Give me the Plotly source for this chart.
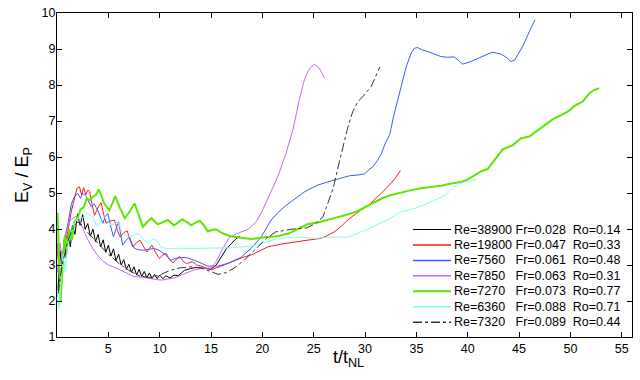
import plotly.graph_objects as go

# ---------------- data ----------------
legend_labels = [
    ("38900", "0.028", "0.14"),
    ("19800", "0.047", "0.33"),
    ("7560", "0.061", "0.48"),
    ("7850", "0.063", "0.31"),
    ("7270", "0.073", "0.77"),
    ("6360", "0.088", "0.71"),
    ("7320", "0.089", "0.44"),
]

t_black = [0.1, 0.3, 0.5, 0.7, 0.9, 1.1, 1.3, 1.5, 1.75, 2.0, 2.25, 2.5, 2.75, 3.0, 3.25, 3.5, 3.75,
           4.0, 4.25, 4.5, 4.75, 5.0, 5.25, 5.5, 5.75, 6.0, 6.25, 6.5, 6.75, 7.0, 7.25, 7.5, 7.75,
           8.0, 8.25, 8.5, 8.75, 9.0, 9.25, 9.5, 9.75, 10.0, 10.3, 10.6, 11.0, 11.4, 11.8, 12.4,
           13.0, 13.5, 14.0, 14.5, 15.0, 15.5, 16.0, 16.5, 17.0, 17.4, 17.8]
v_black = [2.3, 3.4, 2.8, 3.7, 3.2, 3.9, 3.5, 4.1, 3.85, 4.42, 4.1, 4.4, 4.0, 4.15, 3.8, 4.0, 3.65,
           3.85, 3.5, 3.7, 3.35, 3.55, 3.25, 3.45, 3.12, 3.3, 3.0, 3.15, 2.88, 3.02, 2.8, 2.95, 2.72,
           2.88, 2.68, 2.82, 2.65, 2.78, 2.62, 2.74, 2.62, 2.72, 2.62, 2.7, 2.64, 2.72, 2.7, 2.85,
           2.9, 2.93, 2.92, 2.9, 2.88, 3.0, 3.22, 3.45, 3.6, 3.72, 3.8]

t_red = [0.05, 0.3, 0.5, 0.8, 1.1, 1.4, 1.7, 1.94, 2.19, 2.4, 2.6, 2.8, 3.0, 3.17, 3.4, 3.65, 4.0,
         4.3, 4.55, 4.79, 5.2, 5.6, 5.9, 6.15, 6.5, 6.84, 7.1, 7.39, 7.75, 8.1, 8.45, 8.78, 9.0,
         9.24, 9.6, 9.98, 10.3, 10.63, 10.95, 11.28, 11.6, 11.93, 12.3, 12.6, 13.2, 13.6, 14.04,
         15.0, 15.8, 16.96, 18.1, 19.1, 20.5, 21.83, 23.1, 24.4, 25.7, 26.05, 27.0, 27.7, 28.3,
         29.0, 29.6, 30.3, 30.9, 31.6, 32.2, 32.9, 33.45]
v_red = [3.4, 2.5, 3.2, 3.6, 4.0, 4.5, 4.9, 5.13, 5.17, 4.95, 5.15, 4.95, 5.08, 5.05, 4.7, 4.38, 4.6,
         4.73, 4.4, 4.16, 4.22, 4.25, 3.95, 3.78, 3.9, 3.95, 3.7, 3.5, 3.62, 3.69, 3.5, 3.36, 3.45,
         3.55, 3.35, 3.18, 3.28, 3.32, 3.15, 3.06, 3.15, 3.24, 3.1, 3.04, 3.09, 3.0, 2.97,
         2.87, 2.95, 3.09, 3.21, 3.3, 3.5, 3.58, 3.64, 3.69, 3.74, 3.78, 3.92, 4.08, 4.25,
         4.4, 4.53, 4.65, 4.8, 5.0, 5.17, 5.4, 5.62]

t_blue = [0.05, 0.3, 0.5, 0.8, 1.1, 1.4, 1.7, 2.0, 2.3, 2.5, 2.84, 3.1, 3.33, 3.6, 3.98, 4.2, 4.47,
          4.7, 4.96, 5.2, 5.5, 5.75, 6.0, 6.2, 6.4, 6.7, 7.06, 7.3, 7.55, 8.0, 8.5, 9.0, 9.5, 10.0,
          10.5, 11.1, 11.5, 12.1, 12.7, 13.4, 14.0, 14.7, 15.67, 16.6, 17.9, 18.9, 19.9, 20.85,
          21.5, 22.15, 22.8, 23.46, 24.1, 24.75, 25.4, 26.4, 27.0, 27.7, 28.5, 29.3, 29.94, 30.4,
          30.76, 31.2, 31.57, 32.0, 32.4, 32.8, 33.2, 33.6, 34.0, 34.5, 34.8, 35.14, 35.5, 36.1,
          36.8, 37.4, 38.06, 38.7, 39.1, 39.5, 40.3, 41.3, 41.8, 42.4, 43.25, 43.8, 44.2, 44.6,
          44.9, 45.4, 46.0, 46.55]
v_blue = [3.6, 2.4, 3.1, 3.8, 4.2, 4.7, 4.9, 4.99, 4.85, 5.0, 4.9, 4.75, 4.62, 4.7, 4.52, 4.35, 4.16,
          4.35, 4.43, 4.1, 3.78, 4.0, 4.2, 3.85, 3.55, 3.68, 3.78, 3.6, 3.46, 3.42, 3.41, 3.44, 3.46, 3.4,
          3.3, 3.13, 3.18, 3.21, 3.2, 3.13, 3.05, 2.97, 2.97, 3.04, 3.21, 3.46, 3.78, 4.25,
          4.45, 4.62, 4.76, 4.9, 5.03, 5.13, 5.22, 5.31, 5.36, 5.43, 5.48, 5.5, 5.53, 5.65,
          5.73, 5.9, 6.08, 6.4, 6.62, 7.15, 7.6, 8.1, 8.5, 8.89, 9.02, 9.04, 8.98, 8.93,
          8.85, 8.79, 8.77, 8.78, 8.68, 8.58, 8.65, 8.79, 8.84, 8.91, 8.86, 8.76, 8.65, 8.7,
          8.84, 9.1, 9.48, 9.81]

t_purple = [0.05, 0.3, 0.5, 0.75, 1.06, 1.3, 1.55, 1.8, 2.03, 2.3, 2.5, 3.0, 3.5, 4.0, 4.5, 5.0, 5.5,
            6.0, 6.5, 7.0, 7.5, 8.3, 9.0, 9.6, 10.15, 10.8, 11.44, 12.1, 12.75, 13.4, 14.04, 15.0,
            15.5, 16.15, 16.8, 17.6, 18.6, 19.4, 19.9, 20.5, 21.0, 21.5, 22.3, 22.97, 23.6, 24.0,
            24.3, 24.7, 25.07, 25.35, 25.6, 26.05]
v_purple = [2.8, 3.6, 3.2, 3.8, 4.06, 4.25, 4.29, 4.35, 4.34, 4.15, 4.05, 3.7, 3.45, 3.25, 3.1, 3.0, 2.95,
            2.88, 2.8, 2.74, 2.68, 2.66, 2.62, 2.6, 2.58, 2.6, 2.64, 2.72, 2.8, 2.87, 2.9, 2.92,
            3.1, 3.46, 3.77, 3.88, 3.99, 4.2, 4.45, 4.82, 5.15, 5.45, 6.1, 6.75, 7.59, 8.05,
            8.3, 8.5, 8.57, 8.52, 8.44, 8.2]

t_green = [0.05, 0.2, 0.35, 0.55, 0.75, 0.95, 1.2, 1.45, 1.7, 2.0, 2.3, 2.6, 2.9, 3.2, 3.5, 3.8, 4.05,
           4.3, 4.6, 5.1, 5.67, 6.1, 6.6, 7.0, 7.55, 7.95, 8.36, 8.8, 9.2, 9.8, 10.3, 10.8, 11.4, 11.8,
           12.2, 12.6, 13.07, 13.5, 13.9, 14.3, 14.7, 15.1, 15.5, 15.9, 16.3, 16.9, 17.6, 18.9, 20.2,
           21.5, 22.6, 23.45, 24.4, 25.7, 26.7, 27.7, 28.5, 29.3, 30.1, 30.9, 31.7, 32.5, 33.5, 34.5,
           35.4, 36.4, 37.4, 38.3, 39.4, 40.0, 40.65, 41.3, 41.96, 42.7, 43.4, 44.4, 45.2, 46.0, 46.5,
           47.1, 47.7, 48.3, 49.0, 49.75, 50.4, 51.2, 51.85, 52.3, 52.8]
v_green = [4.45, 3.4, 2.0, 3.0, 3.8, 3.4, 4.0, 3.7, 4.2, 4.3, 4.55, 4.6, 4.85, 4.8, 4.9, 4.95, 5.1,
           4.95, 4.7, 4.52, 4.91, 4.6, 4.3, 4.45, 4.71, 4.4, 4.06, 4.2, 4.3, 4.13, 4.18, 4.25, 4.1, 4.18,
           4.27, 4.2, 4.1, 4.18, 4.23, 4.1, 3.93, 3.97, 3.99, 3.92, 3.86, 3.8, 3.77, 3.72, 3.77,
           3.8, 3.88, 3.99, 4.13, 4.2, 4.28, 4.34, 4.42, 4.5, 4.62, 4.76, 4.86, 4.94, 5.02, 5.08,
           5.13, 5.17, 5.2, 5.26, 5.31, 5.38, 5.5, 5.6, 5.67, 5.95, 6.21, 6.33, 6.52, 6.57, 6.68,
           6.8, 6.92, 7.05, 7.15, 7.26, 7.42, 7.54, 7.77, 7.86, 7.91]

t_cyan = [0.05, 0.2, 0.4, 0.6, 0.8, 1.0, 1.3, 1.6, 1.9, 2.19, 2.5, 2.8, 3.0, 3.2, 3.5, 3.82, 4.0, 4.3,
          4.6, 4.95, 5.28, 5.6, 5.9, 6.3, 6.9, 7.4, 7.9, 8.4, 8.85, 9.3, 9.6, 10.15, 10.6, 11.44,
          12.1, 13.07, 14.04, 14.7, 16.0, 17.0, 17.9, 18.9, 19.9, 21.2, 22.5, 23.8, 25.07, 26.0,
          27.0, 28.3, 29.0, 29.6, 30.9, 32.2, 33.5, 34.8, 36.1, 37.4, 38.06, 38.6, 39.2, 40.0, 40.8]
v_cyan = [2.2, 1.8, 2.6, 3.3, 2.8, 3.5, 3.8, 4.1, 4.25, 4.34, 4.3, 4.4, 4.43, 4.4, 4.34, 4.1, 4.08, 4.25,
          4.34, 4.2, 4.1, 4.15, 4.2, 3.95, 3.78, 3.82, 3.88, 3.72, 3.6, 3.72, 3.7, 3.49, 3.46, 3.46,
          3.47, 3.46, 3.46, 3.46, 3.46, 3.48, 3.5, 3.52, 3.6, 3.71, 3.77, 3.77, 3.74, 3.76,
          3.78, 3.77, 3.84, 3.92, 4.08, 4.25, 4.48, 4.57, 4.71, 4.88, 5.0, 5.15, 5.26, 5.31, 5.38]

t_dash = [0.1, 0.5, 1.0, 1.5, 2.0, 2.5, 3.0, 4.0, 5.0, 6.0, 7.0, 8.0, 9.0, 10.0, 11.0, 12.0, 13.0,
          14.0, 15.0, 15.7, 16.5, 17.45, 18.4, 19.4, 20.4, 21.3, 23.0, 24.3, 25.2, 25.9, 26.4, 26.9,
          27.35, 27.84, 28.3, 28.8, 29.3, 29.8, 30.6, 31.45]
v_dash = [2.2, 3.0, 3.6, 4.0, 4.2, 4.1, 3.9, 3.6, 3.3, 3.05, 2.85, 2.7, 2.65, 2.72, 2.85, 2.92, 2.95,
          2.92, 2.82, 2.74, 2.79, 2.95, 3.18, 3.46, 3.74, 3.92, 4.0, 4.03, 4.15, 4.34, 4.76, 5.13,
          5.69, 6.24, 6.8, 7.26, 7.54, 7.68, 7.96, 8.5]

x_ticks = [5, 10, 15, 20, 25, 30, 35, 40, 45, 50, 55]
y_ticks = [1, 2, 3, 4, 5, 6, 7, 8, 9, 10]

# ---------------- figure ----------------
NB = "\u00a0"
FONT = "Liberation Sans"
W, H = 640, 380
ML, MR, MT, MB = 57, 8, 13, 43
PW, PH = W - ML - MR, H - MT - MB


def label(re, fr, ro):
    pad = NB * 2 * (5 - len(re))
    return f"Re={re}{pad} Fr={fr}{NB}{NB}Ro={ro}"


def px_to_paper(px, py):
    return (px - ML) / PW, (H - MB - py) / PH


series = [
    (t_black, v_black, "#000000", 1, "solid"),
    (t_red, v_red, "#ff1a1a", 1, "solid"),
    (t_blue, v_blue, "#3a5cff", 1, "solid"),
    (t_purple, v_purple, "#c466ff", 1, "solid"),
    (t_green, v_green, "#5fe600", 2, "solid"),
    (t_cyan, v_cyan, "#7dffe6", 1, "solid"),
    (t_dash, v_dash, "#333333", 1, "dashdot"),
]

fig = go.Figure()
shapes, annotations = [], []
# legend block (compact rows as in the reference)
ROW0, ROW_STEP = 229.5, 15.45
for i, ((tx, vy, col, w, dash), lab) in enumerate(zip(series, legend_labels)):
    name = label(*lab)
    fig.add_trace(go.Scatter(x=tx, y=vy, mode="lines", name=name, showlegend=False,
                             line=dict(color=col, width=w, dash=dash)))
    yrow = ROW0 + i * ROW_STEP
    x0, y0 = px_to_paper(413, yrow)
    x1, _ = px_to_paper(451, yrow)
    shapes.append(dict(type="line", xref="paper", yref="paper", x0=x0, x1=x1, y0=y0, y1=y0,
                       line=dict(color=col, width=max(w, 1.5) if col != "#000000" else 1, dash=dash)))
    xt, yt = px_to_paper(452, yrow)
    annotations.append(dict(text=name, xref="paper", yref="paper", x=xt, y=yt,
                            xanchor="left", yanchor="middle", showarrow=False,
                            font=dict(family=FONT, size=12.5, color="black")))

# axis titles
xtx, _ = px_to_paper(348, 0)
annotations.append(dict(text="t/t<sub>NL</sub>", xref="paper", yref="paper",
                        x=xtx, y=0, xanchor="center", yanchor="top", yshift=-8,
                        showarrow=False, font=dict(family=FONT, size=18, color="black")))
ytx, yty = px_to_paper(23, 175)
annotations.append(dict(text="E<sub>V</sub> / E<sub>P</sub>", xref="paper", yref="paper",
                        x=ytx, y=yty, xanchor="center", yanchor="middle", textangle=-90,
                        showarrow=False, font=dict(family=FONT, size=18, color="black")))

axis_common = dict(showline=True, linecolor="black", linewidth=1, mirror="ticks",
                   ticks="inside", ticklen=5, tickcolor="black", showgrid=False,
                   zeroline=False, automargin=False,
                   tickfont=dict(family=FONT, size=12.5, color="black"))

fig.update_layout(
    width=W, height=H,
    margin=dict(l=ML, r=MR, t=MT, b=MB),
    paper_bgcolor="white", plot_bgcolor="white",
    font=dict(family=FONT, color="black", size=12),
    xaxis=dict(range=[0, 56], tickvals=x_ticks, **axis_common),
    yaxis=dict(range=[1, 10], tickvals=y_ticks, ticklabelstandoff=-2,
               ticklabeloverflow="allow", **axis_common),
    showlegend=False,
    shapes=shapes,
    annotations=annotations,
)

# remove the browser's default 8px body margin so the figure fills the window
fig.write_html("out.html", config={"displayModeBar": False},
               post_script="document.body.style.margin='0px';")
